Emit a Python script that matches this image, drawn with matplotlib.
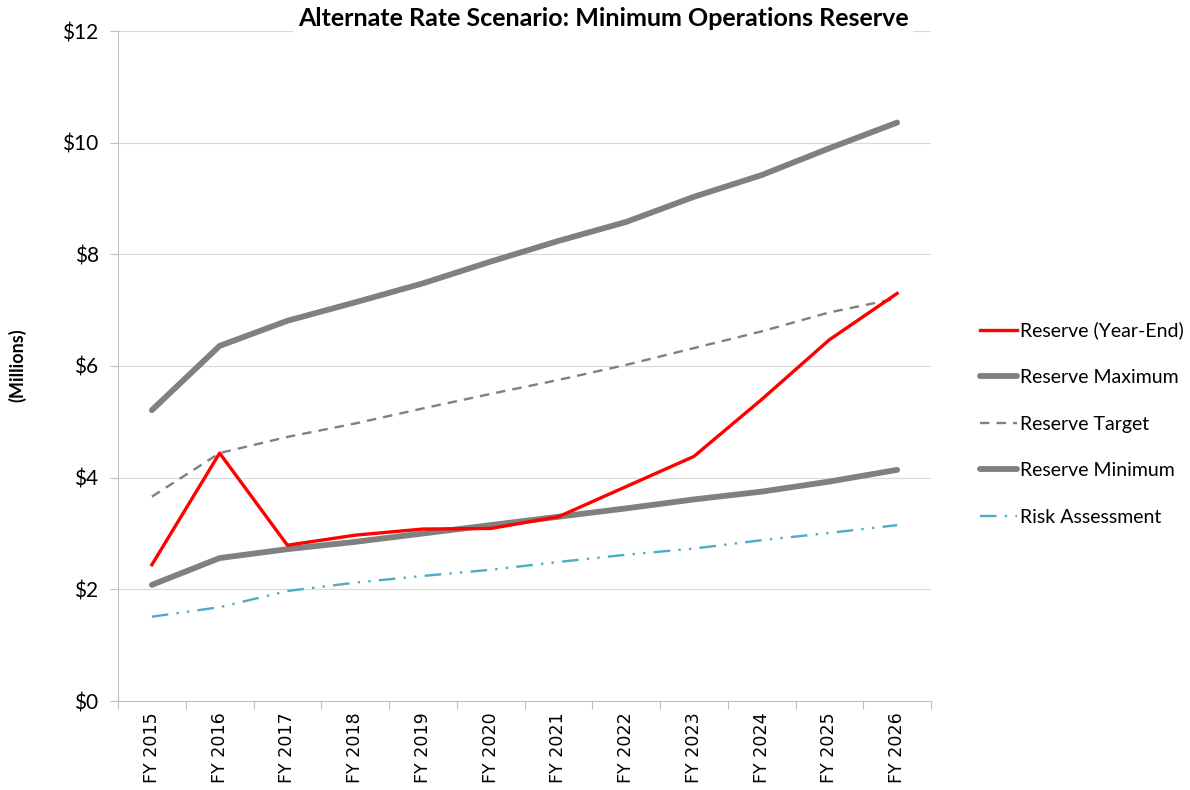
import matplotlib.pyplot as plt
import numpy as np

# data (millions of dollars)
years = ["FY 2015", "FY 2016", "FY 2017", "FY 2018", "FY 2019", "FY 2020",
         "FY 2021", "FY 2022", "FY 2023", "FY 2024", "FY 2025", "FY 2026"]
reserve_year_end = [2.44, 4.44, 2.79, 2.97, 3.08, 3.09, 3.30, 3.84, 4.38, 5.40, 6.47, 7.30]
reserve_max = [5.21, 6.36, 6.81, 7.14, 7.48, 7.87, 8.24, 8.58, 9.03, 9.42, 9.90, 10.36]
reserve_target = [3.66, 4.44, 4.73, 4.97, 5.24, 5.50, 5.75, 6.02, 6.32, 6.62, 6.96, 7.21]
reserve_min = [2.08, 2.56, 2.72, 2.85, 3.00, 3.15, 3.30, 3.45, 3.61, 3.75, 3.93, 4.14]
risk_assessment = [1.51, 1.68, 1.97, 2.12, 2.24, 2.35, 2.49, 2.62, 2.73, 2.88, 3.01, 3.15]

plt.rcParams['font.family'] = ['Lato', 'DejaVu Sans']

fig = plt.figure(figsize=(11.9, 7.9), dpi=100)
ax = fig.add_axes([118 / 1190, 1 - 701 / 790, (931 - 118) / 1190, (701 - 31) / 790])

x = np.arange(len(years))
ax.plot(x, reserve_year_end, color='#ff0000', lw=2.4, label='Reserve (Year-End)', zorder=4)
ax.plot(x, reserve_max, color='#808080', lw=4.2, solid_capstyle='round', label='Reserve Maximum', zorder=3)
ax.plot(x, reserve_target, color='#808080', lw=1.7, linestyle=(0, (4, 3)), label='Reserve Target', zorder=3)
ax.plot(x, reserve_min, color='#808080', lw=4.2, solid_capstyle='round', label='Reserve Minimum', zorder=3)
ax.plot(x, risk_assessment, color='#4bacc6', lw=1.7, linestyle=(0, (7, 3.5, 1, 3.5, 1, 3.5)),
        label='Risk Assessment', zorder=3)

ax.set_xlim(-0.5, len(years) - 0.5)
ax.set_ylim(0, 12)
ax.set_yticks(np.arange(0, 13, 2))
ax.set_yticklabels([f"${v}" for v in range(0, 13, 2)], fontsize=15)
ax.grid(axis='y', color='#d9d9d9', lw=0.8)
ax.set_axisbelow(True)

ax.set_xticks(np.arange(-0.5, len(years)), minor=False)
ax.set_xticklabels([])
ax.set_xticks(x, minor=True)
ax.set_xticklabels(years, minor=True, rotation=90, fontsize=12.6, family='DejaVu Sans')
ax.tick_params(axis='x', which='major', length=6, color='#bfbfbf')
ax.tick_params(axis='x', which='minor', length=0, pad=8)
ax.tick_params(axis='y', length=6, color='#bfbfbf', pad=8)

for s in ['top', 'right']:
    ax.spines[s].set_visible(False)
ax.spines['left'].set_color('#bfbfbf')
ax.spines['bottom'].set_color('#bfbfbf')

fig.text(17 / 1190, 1 - 365 / 790, '(Millions)', rotation=90, fontsize=13, fontweight='bold',
         ha='center', va='center')

fig.text(603 / 1190, 1 - 19 / 790, 'Alternate Rate Scenario: Minimum Operations Reserve',
         fontsize=18, fontweight='bold', ha='center', va='center',
         bbox=dict(facecolor='white', edgecolor='none', pad=3))

ax.legend(loc='upper left', bbox_to_anchor=(962 / 1190, 1 - 304 / 790),
          bbox_transform=fig.transFigure, frameon=False, fontsize=14,
          handlelength=1.95, handletextpad=0.15, labelspacing=1.52)

fig.savefig('out.png', dpi=100)
